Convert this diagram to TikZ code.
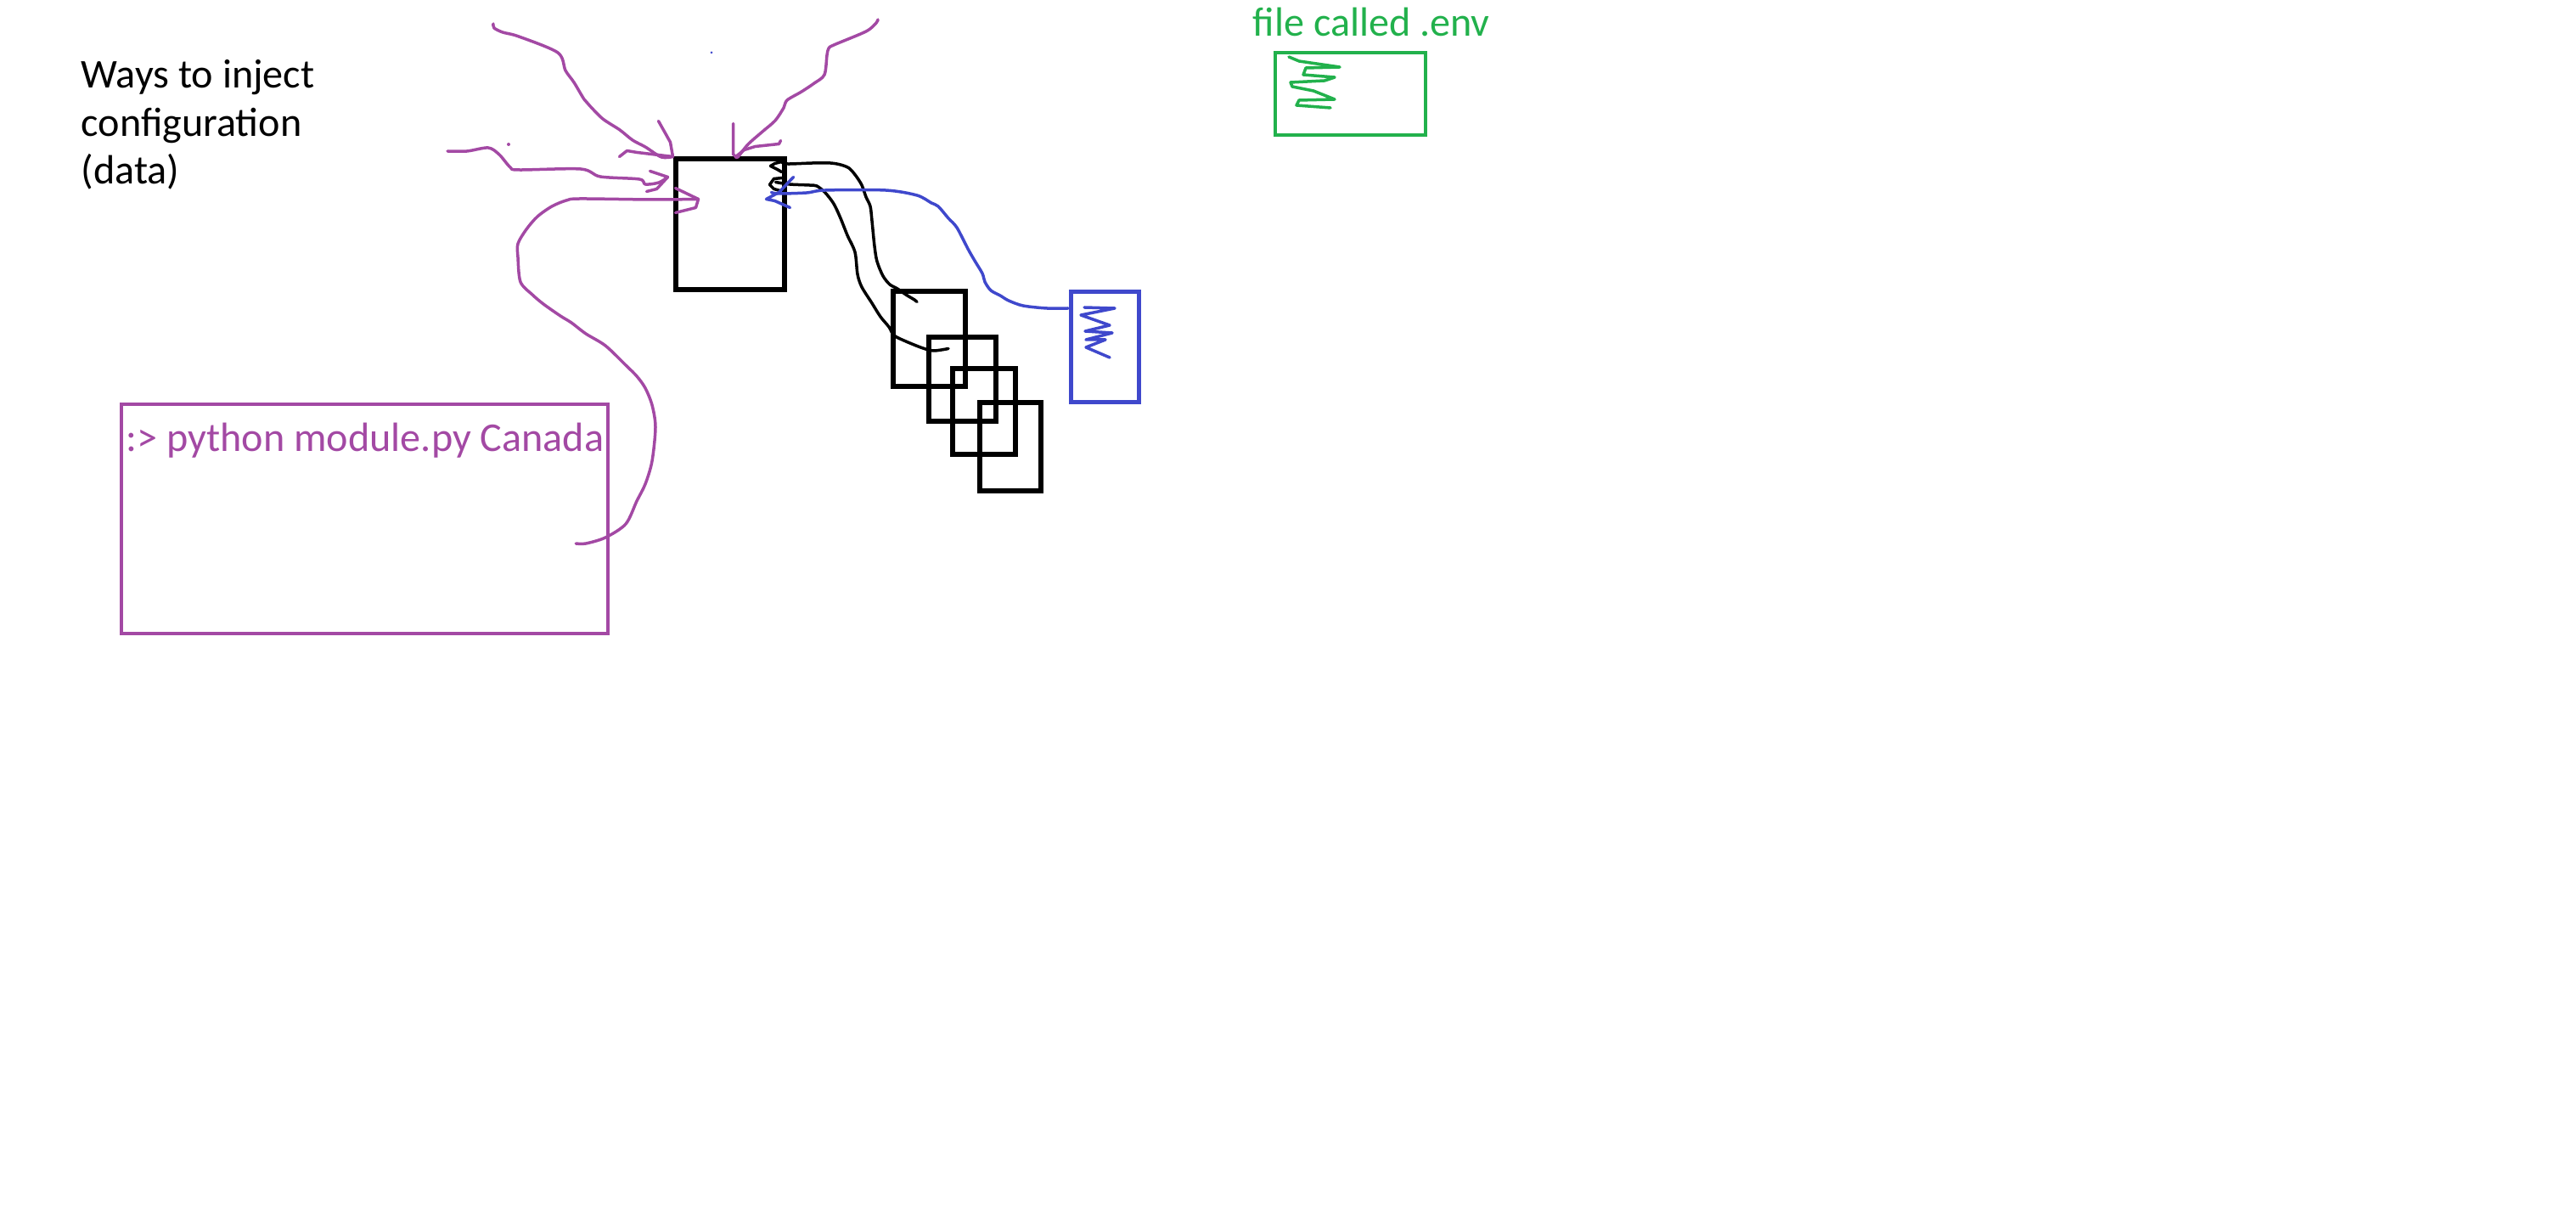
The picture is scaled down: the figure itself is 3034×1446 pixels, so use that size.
\documentclass[tikz,border=0pt]{standalone}
\usepackage{fontspec}
\setmainfont{Carlito}
\usetikzlibrary{calc}
\definecolor{ppurple}{RGB}{163,73,164}
\definecolor{pblue}{RGB}{63,72,204}
\definecolor{pgreen}{RGB}{34,177,76}

\begin{document}
\begin{tikzpicture}[
  x=0.1mm,y=-0.1mm,
  box/.style={draw,line width=0.6mm,inner sep=0pt},
  txt/.style={inner sep=0pt,anchor=base west,align=left,font=\fontsize{13.7pt}{16.2pt}\selectfont},
  pen/.style={line width=0.35mm,line cap=round,line join=round}
]
\useasboundingbox (0,0) rectangle (3034,1446);

% Texts
\node[txt] (title) at (95,217) {Ways to inject\\configuration\\(data)};
\node[txt,text=pgreen] (envlbl) at (1475,43) {file called .env};

% Boxes
\node[box,minimum width=12.8mm,minimum height=15.4mm] (main) at (859.5,264.5) {};
\node[box,minimum width=8.5mm,minimum height=11.2mm] (cfg1) at (1094,399.5) {};
\node[box,minimum width=7.9mm,minimum height=9.9mm] (cfg2) at (1133,447) {};
\node[box,minimum width=7.4mm,minimum height=10.1mm] (cfg3) at (1158.5,485) {};
\node[box,minimum width=7.2mm,minimum height=10.4mm] (cfg4) at (1189.5,526.5) {};
\node[box,draw=pblue,line width=0.5mm,minimum width=8mm,minimum height=13mm] (envb) at (1301.5,408.5) {};
\node[box,draw=pgreen,line width=0.45mm,minimum width=17.7mm,minimum height=9.7mm] (genv) at (1590.5,110.5) {};
\node[box,draw=ppurple,line width=0.45mm,minimum width=57.3mm,minimum height=27mm] (cli) at (429.5,611) {};
\node[txt,text=ppurple] (cmd) at (148,532) {:> python module.py Canada};

% Scribbles
\draw[pen,pblue] (1277,362) -- (1313,363) -- (1273,371) -- (1307,383) -- (1278,390) -- (1310,392)
  -- (1279,400) -- (1302,400) -- (1279,409) -- (1307,421);
\draw[pen,pgreen] (1518,67) -- (1530,72) -- (1578,79) -- (1538,80) -- (1535,88) -- (1572,91)
  -- (1560,95) -- (1520,97) -- (1522,102) -- (1547,107) -- (1572,117) -- (1530,118) -- (1527,124) -- (1567,127);
\fill[ppurple] (599,170) circle (2);
\fill[pblue] (838,62) circle (1.5);

% Ends
\coordinate (p1) at (581,28);
\coordinate (p2) at (527,178);
\coordinate (p3) at ($(cli.east)+(-40,29)$);
\coordinate (p4) at (1034,23);
\coordinate (t1) at (main.north west);
\coordinate (t2) at ($(main.north west)+(-6,24)$);
\coordinate (t3) at ($(main.north west)+(30,50)$);
\coordinate (t4) at ($(main.north)+(7,0)$);
\coordinate (sA) at ($(cfg1.north)+(-14,15)$);
\coordinate (sB) at ($(cfg2.north)+(-16,16)$);
\coordinate (sC) at ($(envb.north west)+(-1,22)$);
\coordinate (tA) at ($(main.north east)+(-6,6)$);
\coordinate (tB) at ($(main.north east)+(-13,30)$);
\coordinate (tC) at ($(main.north east)+(-18,42)$);

% Purple: ways in
\draw[pen,ppurple] plot[smooth,tension=.5] coordinates {(p1) (582,33) (592,38) (611,43) (657,62) (666,83)
  (676,97) (688,117) (695,125) (710,140) (730,153) (745,165) (760,173) (779,185) (t1)};
\draw[pen,ppurple] (t1) -- ++(-3,-17) -- ++(-5,-9) -- ++(-9,-16);
\draw[pen,ppurple] (t1) -- ++(-42,-5) -- ++(-12,-2) -- ++(-9,7);
\draw[pen,ppurple] plot[smooth,tension=.5] coordinates {(p2) (550,178) (575,174) (588,182) (601,197)
  (611,200) (684,199) (707,208) (753,211) (760,217) (776,215) (t2)};
\draw[pen,ppurple] (t2) -- ++(-21,-7);
\draw[pen,ppurple] (t2) -- ++(-13,14) -- ++(-12,3);
\draw[pen,ppurple] plot[smooth,tension=.5] coordinates {(p3) (690,640) (713,633) (737,617) (750,590)
  (760,570) (768,543) (772,503) (768,477) (760,457) (750,443) (737,430) (713,407) (690,393) (673,380)
  (660,372) (640,358) (627,347) (613,332) (610,303) (610,287) (620,270) (633,255) (650,243) (667,236)
  (683,234) (767,235) (t3)};
\draw[pen,ppurple] (t3) -- ++(-27,-13);
\draw[pen,ppurple] (t3) -- ++(-3,10) -- ++(-12,3) -- ++(-12,3);
\draw[pen,ppurple] plot[smooth,tension=.5] coordinates {(p4) (1032,27) (1020,37) (982,53) (976,57)
  (974,65) (971,88) (959,98) (944,108) (927,118) (923,127) (913,142) (898,155) (881,170) (869,185) (t4)};
\draw[pen,ppurple] (t4) -- ++(-3,-3) -- ++(0,-36);
\draw[pen,ppurple] (t4) -- ++(10,-8) -- ++(13,-4) -- ++(28,-3) -- ++(2,-4);

% Black: config files
\draw[pen] plot[smooth,tension=.5] coordinates {(sA) (1077,353) (1067,347) (1057,340) (1048,335)
  (1040,325) (1033,308) (1030,290) (1027,260) (1025,243) (1020,232) (1015,218) (1008,207) (1000,198)
  (990,194) (978,192) (957,192) (927,193) (tA)};
\draw[pen] (tA) -- ++(-8,2) -- ++(-5,3) -- ++(8,4) -- ++(5,3);
\draw[pen] plot[smooth,tension=.5] coordinates {(sB) (1100,413) (1087,410) (1067,402) (1053,395)
  (1047,385) (1037,373) (1027,357) (1015,338) (1010,323) (1007,297) (998,277) (990,257) (982,240)
  (972,227) (962,219) (953,218) (930,217) (tB)};
\draw[pen] (tB) ++(8,-5) -- ++(-10,1) -- ++(-5,7) -- ++(5,5) -- ++(7,2);

% Blue: env file
\draw[pen,pblue] plot[smooth,tension=.5] coordinates {(sC) (1233,363) (1205,360) (1188,354) (1178,348)
  (1167,342) (1160,332) (1157,322) (1148,307) (1140,293) (1127,268) (1117,257) (1105,243) (1097,239)
  (1080,230) (1043,224) (972,224) (950,227) (917,228) (tC)};
\draw[pen,pblue] (tC) ++(26,-18) -- ++(-17,18) -- ++(-15,8) -- ++(10,2) -- ++(18,8);
\end{tikzpicture}
\end{document}
